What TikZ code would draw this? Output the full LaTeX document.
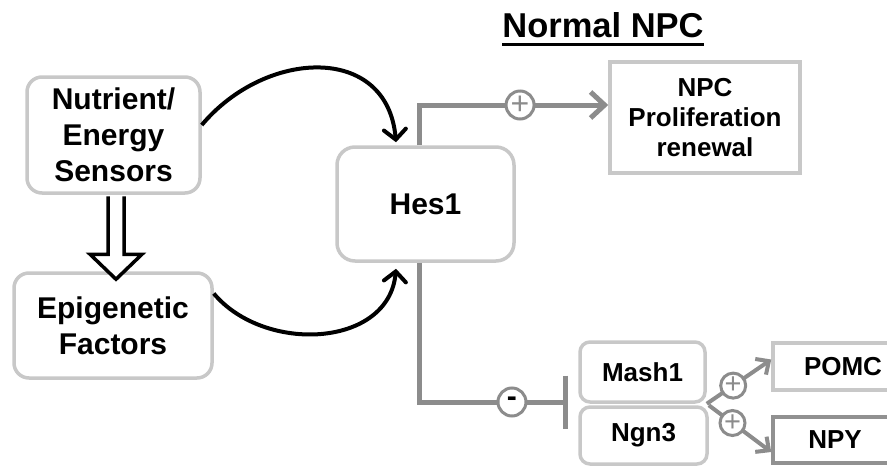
\documentclass[tikz,border=0pt]{standalone}
\usepackage{fontspec}
\setmainfont{Liberation Sans}
\usetikzlibrary{arrows.meta,positioning}
\definecolor{boxgray}{RGB}{200,200,200}
\definecolor{wiregray}{RGB}{140,140,140}
\definecolor{npygray}{RGB}{145,145,145}
\tikzstyle{roundbox} = [draw=boxgray, line width=3.5pt, rounded corners=15pt, fill=white, align=center, inner sep=0pt, font=\fontsize{30}{36}\selectfont\bfseries]
\tikzstyle{smallbox} = [draw=boxgray, line width=3.5pt, rounded corners=10pt, fill=white, align=center, inner sep=0pt, font=\fontsize{26}{30}\selectfont\bfseries]
\tikzstyle{squarebox} = [draw=boxgray, line width=3.5pt, fill=white, align=center, inner sep=0pt, font=\fontsize{26}{30}\selectfont\bfseries]
\tikzstyle{sign} = [circle, draw=wiregray, line width=3pt, fill=white, inner sep=0pt, minimum size=28pt, text=wiregray, font=\fontsize{32}{32}\selectfont]
\tikzstyle{smallsign} = [sign, minimum size=25pt, font=\fontsize{29}{29}\selectfont]
\tikzstyle{wire} = [draw=wiregray, line width=5pt]
\tikzstyle{curvearrow} = [draw=black, line width=4pt, -{Straight Barb[length=10pt,width=22pt,line cap=round]}]
\tikzstyle{hollowarrow} = [draw=black, line width=3.5pt, fill=white, line join=miter]

\begin{document}
\begin{tikzpicture}[x=1pt, y=1pt, >={Straight Barb[length=14pt,width=26pt]}]
\clip (0,0) rectangle (887,-466);
%\draw (0,0) rectangle (887,-466);
   \node (title) at (603,-25) [inner sep=0pt, font=\fontsize{34.5}{36}\selectfont\bfseries] {Normal NPC};
   \draw[line width=3.5pt] ([yshift=-7pt]title.base west) -- ([yshift=-7pt]title.base east);

   \node (nutrient) at (113.5,-135) [roundbox, minimum width=173, minimum height=116] {Nutrient/\\Energy\\Sensors};
   \node (epi) at (113,-325.5) [roundbox, minimum width=198, minimum height=105] {Epigenetic\\Factors};
   \node (hes1) at (425.5,-204) [roundbox, rounded corners=18pt, minimum width=177, minimum height=114] {Hes1};

   \node (npc) at (705,-117.5) [squarebox, minimum width=190, minimum height=111] {NPC\\Proliferation\\renewal};
   \node (mash1) at (642.5,-372) [smallbox, minimum width=125, minimum height=60] {Mash1};
   \node (ngn3) at (643.5,-435.5) [smallbox, minimum width=127, minimum height=57] {Ngn3};
   \node (pomc) at (843,-366.5) [squarebox, minimum width=140, minimum height=47] {POMC};
   \node (npy) at (835,-440) [squarebox, draw=npygray, minimum width=124, minimum height=46] {NPY};
   \coordinate (block) at (568,-402);

   \draw[hollowarrow] ([xshift=-5.5pt,yshift=-1.5pt]nutrient.south) -- ++(0,-58) -- ++(-18,0) -- ++(26,-25) -- ++(26,25) -- ++(-18,0) -- ++(0,58);
   \draw[curvearrow] ([yshift=10pt]nutrient.east) to[out=50, in=95, looseness=1.3] ([xshift=-29.5pt,yshift=3pt]hes1.north);
   \draw[curvearrow] ([yshift=32pt]epi.east) to[out=-50, in=-95, looseness=1.1] ([xshift=-29.5pt,yshift=-6pt]hes1.south);

   \draw[wire, ->] ([xshift=-6.5pt]hes1.north) |- ([yshift=12.5pt]npc.west) node[sign, pos=0.767] (plusnpc) {+};
   \draw[wire, -{Bar[width=53pt]}] ([xshift=-6.5pt]hes1.south) |- (block) node[sign, text=black, font=\fontsize{30}{30}\selectfont\bfseries, pos=0.812] (minus) {-};

   \draw[wire, line width=4pt, -{Straight Barb[length=10pt,width=19pt]}] (mash1.south east) -- ([yshift=7pt]pomc.west) node[smallsign, pos=0.41] (pluspomc) {+};
   \draw[wire, line width=4pt, -{Straight Barb[length=10pt,width=19pt]}] (ngn3.north east) -- ([yshift=-12pt]npy.west) node[smallsign, pos=0.38] (plusnpy) {+};
\end{tikzpicture}
\end{document}
